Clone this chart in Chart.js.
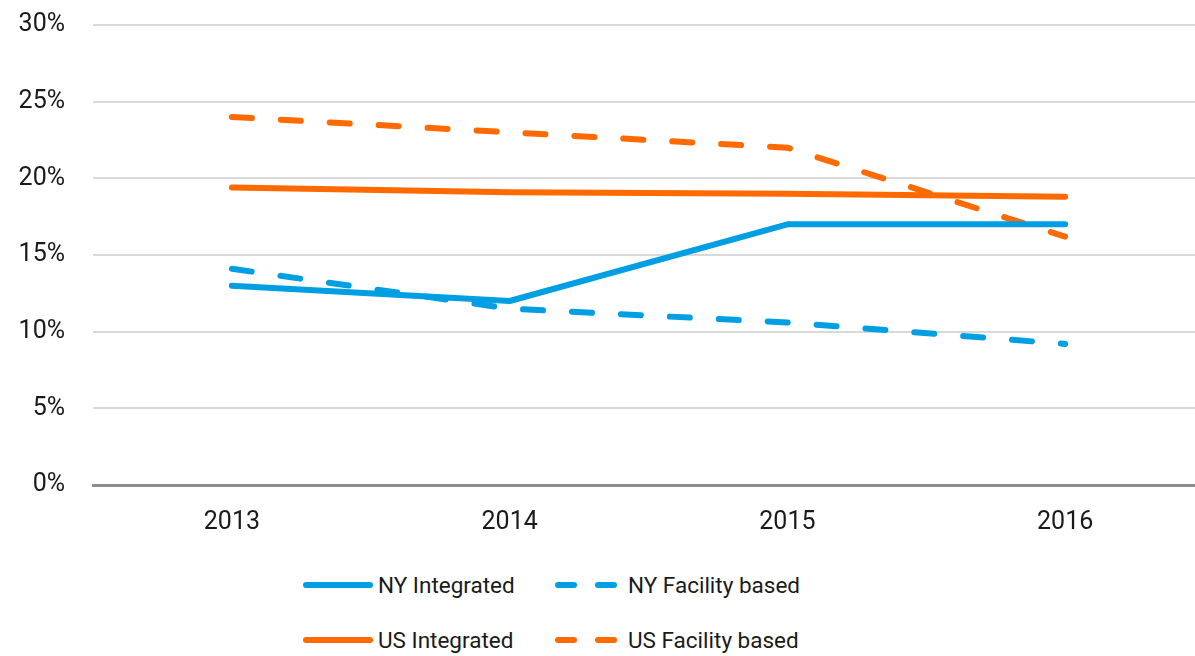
<!DOCTYPE html>
<html lang="en">
<head>
  <meta charset="UTF-8">
  <title>Integrated vs facility based</title>
  <script src="https://cdn.jsdelivr.net/npm/chart.js"></script>
  <style>
    html, body { margin: 0; padding: 0; background: #fff; }
    body { width: 1195px; height: 656px; position: relative; overflow: hidden; font-family: Roboto, 'Liberation Sans', sans-serif; color: #1a1a1a; }
    /* plot runs a little past the right edge, as in the reference */
    .chart-box { position: absolute; left: 0; top: 0; width: 1204px; height: 560px; }
    #legend { position: absolute; left: 303px; top: 570px; display: grid; grid-template-columns: 252px 320px; row-gap: 25px; }
    .item { display: flex; align-items: center; height: 30px; font-size: 22.5px; white-space: nowrap; }
  </style>
</head>
<body>
  <div class="chart-box"><canvas id="lineChart"></canvas></div>
  <div id="legend"></div>
  <script>
    // data
    const years = ['2013', '2014', '2015', '2016'];
    const nyIntegrated = [13.0, 12.0, 17.0, 17.0];
    const nyFacility = [14.1, 11.5, 10.6, 9.2];
    const usIntegrated = [19.4, 19.1, 19.0, 18.8];
    const usFacility = [24.0, 23.0, 22.0, 16.2];
    const yTicks = [0, 5, 10, 15, 20, 25, 30];

    const blue = '#009fe3';
    const orange = '#ff6a00';
    const dash = [20, 29];

    function series(label, data, color, dashed) {
      return {
        label: label,
        data: data,
        borderColor: color,
        backgroundColor: color,
        borderWidth: 6,
        borderCapStyle: 'round',
        borderJoinStyle: 'round',
        borderDash: dashed ? dash : [],
        pointRadius: 0,
        tension: 0,
        fill: false
      };
    }

    const datasets = [
      series('NY Integrated', nyIntegrated, blue, false),
      series('NY Facility based', nyFacility, blue, true),
      series('US Integrated', usIntegrated, orange, false),
      series('US Facility based', usFacility, orange, true)
    ];

    const ctx = document.getElementById('lineChart').getContext('2d');
    new Chart(ctx, {
      type: 'line',
      data: { labels: years, datasets: datasets },
      options: {
        responsive: true,
        maintainAspectRatio: false,
        animation: false,
        layout: { padding: { top: 25, right: 0, left: 0, bottom: 0 } },
        plugins: { legend: { display: false }, tooltip: { enabled: false } },
        scales: {
          x: {
            offset: true,
            grid: { display: false, drawTicks: false },
            border: { color: '#8c8c8c', width: 3 },
            ticks: { color: '#1a1a1a', font: { family: 'Roboto', size: 25 }, padding: 23 },
            afterFit: function (s) { s.height = 75; }
          },
          y: {
            min: 0,
            max: 30,
            afterBuildTicks: function (s) { s.ticks = yTicks.map(v => ({ value: v })); },
            grid: { color: '#d9d9d9', lineWidth: 2, drawTicks: false },
            border: { display: false },
            ticks: {
              color: '#1a1a1a',
              font: { family: 'Roboto', size: 25 },
              padding: 28,
              callback: v => v + '%'
            },
            afterFit: function (s) { s.width = 93; s.paddingTop = 0; s.paddingBottom = 0; }
          }
        }
      }
    });

    // legend in two rows like the reference
    const legend = document.getElementById('legend');
    datasets.forEach(ds => {
      const item = document.createElement('div');
      item.className = 'item';
      const dashed = ds.borderDash.length > 0;
      const w = dashed ? 66 : 70;
      const gap = dashed ? 7 : 5;
      const da = dashed ? 'stroke-dasharray="16 24"' : '';
      item.innerHTML = '<svg width="' + w + '" height="10" style="margin-right:' + gap + 'px"><line x1="3" y1="5" x2="' + (w - 3) + '" y2="5" stroke="' + ds.borderColor +
        '" stroke-width="6" stroke-linecap="round" ' + da + '/></svg><span>' + ds.label + '</span>';
      legend.appendChild(item);
    });
  </script>
</body>
</html>
